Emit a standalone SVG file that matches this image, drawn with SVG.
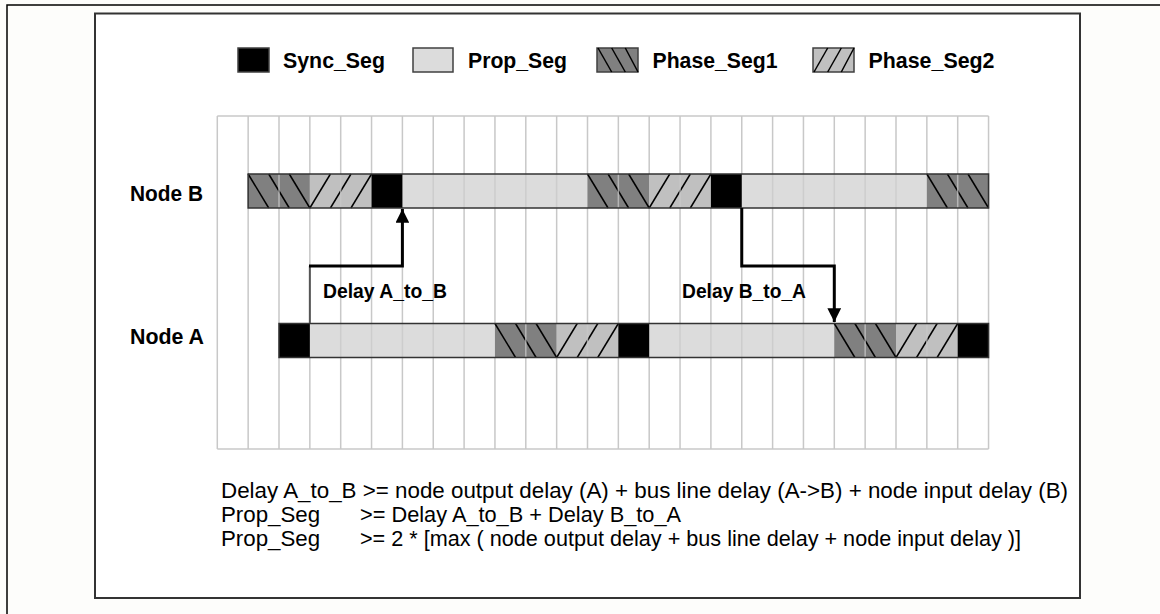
<svg xmlns="http://www.w3.org/2000/svg" width="1160" height="614" viewBox="0 0 1160 614">
<style>
.bold{font-family:"Liberation Sans",Arial,sans-serif;font-weight:bold;fill:#000}
.reg{font-family:"Liberation Sans",Arial,sans-serif;font-size:22.3px;fill:#000}
.grid{stroke:#c8c8c8;stroke-width:1.5;fill:none}
.gridover{stroke:#c8c8c8;stroke-width:1.5;stroke-opacity:0.75}
.sync{fill:#000}
.prop{fill:#dcdcdc}
.ph1{fill:#808080}
.ph2{fill:#c0c0c0}
.hatch{stroke:#000;stroke-width:1.5}
.barout{fill:none;stroke:#333;stroke-width:1.5}
.lg{stroke:#404040;stroke-width:1.5}
.conn{fill:none;stroke:#000;stroke-width:3}
</style>
<defs>
<marker id="ah" viewBox="0 0 10 10" refX="10" refY="5" markerWidth="4.6" markerHeight="4.6" orient="auto" markerUnits="strokeWidth">
<path d="M0,0 L10,5 L0,10 z" fill="#000"/>
</marker>
</defs>
<rect x="0" y="0" width="1160" height="614" fill="#fdfdfb"/>
<path d="M7,614 V5 H1160" fill="none" stroke="#000" stroke-width="1.5"/>
<rect x="95" y="13.5" width="985" height="584.5" fill="#fff" stroke="#333" stroke-width="2"/>

<g id="legend">
<rect x="238" y="48" width="31" height="24" class="sync lg"/>
<text x="283" y="68" class="bold" font-size="22.5" textLength="102" lengthAdjust="spacingAndGlyphs">Sync_Seg</text>
<rect x="413" y="48" width="40" height="24" class="prop lg"/>
<text x="468" y="68" class="bold" font-size="22.5" textLength="99" lengthAdjust="spacingAndGlyphs">Prop_Seg</text>
<rect x="597" y="48" width="41" height="24" class="ph1 lg"/>
<line x1="598" y1="48" x2="611.7" y2="72" class="hatch"/>
<line x1="611.7" y1="48" x2="625.3" y2="72" class="hatch"/>
<line x1="625.3" y1="48" x2="638" y2="72" class="hatch"/>
<text x="652.5" y="68" class="bold" font-size="22.5" textLength="125" lengthAdjust="spacingAndGlyphs">Phase_Seg1</text>
<rect x="813" y="48" width="41" height="24" class="ph2 lg"/>
<line x1="814" y1="72" x2="827.7" y2="48" class="hatch"/>
<line x1="827.7" y1="72" x2="841.3" y2="48" class="hatch"/>
<line x1="841.3" y1="72" x2="854" y2="48" class="hatch"/>
<text x="868.5" y="68" class="bold" font-size="22.5" textLength="126" lengthAdjust="spacingAndGlyphs">Phase_Seg2</text>
</g>

<g id="grid">
<line x1="217.3" y1="116" x2="988.55" y2="116" class="grid"/>
<line x1="217.3" y1="449" x2="988.55" y2="449" class="grid"/>
<path class="grid" d="M217.3,116V449 M248.15,116V449 M279,116V449 M309.85,116V449 M340.7,116V449 M371.55,116V449 M402.4,116V449 M433.25,116V449 M464.1,116V449 M494.95,116V449 M525.8,116V449 M556.65,116V449 M587.5,116V449 M618.35,116V449 M649.2,116V449 M680.05,116V449 M710.9,116V449 M741.75,116V449 M772.6,116V449 M803.45,116V449 M834.3,116V449 M865.15,116V449 M896,116V449 M926.85,116V449 M957.7,116V449 M988.55,116V449"/>
</g>

<g id="nodeB">
<text x="130" y="201" class="bold" font-size="22" textLength="73" lengthAdjust="spacingAndGlyphs">Node B</text>
<rect x="248.15" y="174" width="61.7" height="34" class="ph1"/>
<rect x="309.85" y="174" width="61.7" height="34" class="ph2"/>
<rect x="402.4" y="174" width="185.1" height="34" class="prop"/>
<rect x="587.5" y="174" width="61.7" height="34" class="ph1"/>
<rect x="649.2" y="174" width="61.7" height="34" class="ph2"/>
<rect x="741.75" y="174" width="185.1" height="34" class="prop"/>
<rect x="926.85" y="174" width="61.7" height="34" class="ph1"/>
<g class="hatch">
<line x1="248.15" y1="174" x2="268.72" y2="208"/>
<line x1="268.72" y1="174" x2="289.28" y2="208"/>
<line x1="289.28" y1="174" x2="309.85" y2="208"/>
<line x1="309.85" y1="208" x2="330.42" y2="174"/>
<line x1="330.42" y1="208" x2="350.98" y2="174"/>
<line x1="350.98" y1="208" x2="371.55" y2="174"/>
<line x1="587.5" y1="174" x2="608.07" y2="208"/>
<line x1="608.07" y1="174" x2="628.63" y2="208"/>
<line x1="628.63" y1="174" x2="649.2" y2="208"/>
<line x1="649.2" y1="208" x2="669.77" y2="174"/>
<line x1="669.77" y1="208" x2="690.33" y2="174"/>
<line x1="690.33" y1="208" x2="710.9" y2="174"/>
<line x1="926.85" y1="174" x2="947.42" y2="208"/>
<line x1="947.42" y1="174" x2="967.98" y2="208"/>
<line x1="967.98" y1="174" x2="988.55" y2="208"/>
</g>
<path class="gridover" d="M279,174V208 M340.7,174V208 M433.25,174V208 M464.1,174V208 M494.95,174V208 M525.8,174V208 M556.65,174V208 M618.35,174V208 M680.05,174V208 M772.6,174V208 M803.45,174V208 M834.3,174V208 M865.15,174V208 M896,174V208 M957.7,174V208"/>
<rect x="371.55" y="174" width="30.85" height="34" class="sync"/>
<rect x="710.9" y="174" width="30.85" height="34" class="sync"/>
<rect x="248.15" y="174" width="740.4" height="34" class="barout"/>
</g>

<g id="nodeA">
<text x="130" y="344" class="bold" font-size="22" textLength="74" lengthAdjust="spacingAndGlyphs">Node A</text>
<rect x="309.85" y="323.5" width="185.1" height="34" class="prop"/>
<rect x="494.95" y="323.5" width="61.7" height="34" class="ph1"/>
<rect x="556.65" y="323.5" width="61.7" height="34" class="ph2"/>
<rect x="649.2" y="323.5" width="185.1" height="34" class="prop"/>
<rect x="834.3" y="323.5" width="61.7" height="34" class="ph1"/>
<rect x="896" y="323.5" width="61.7" height="34" class="ph2"/>
<g class="hatch">
<line x1="494.95" y1="323.5" x2="515.52" y2="357.5"/>
<line x1="515.52" y1="323.5" x2="536.08" y2="357.5"/>
<line x1="536.08" y1="323.5" x2="556.65" y2="357.5"/>
<line x1="556.65" y1="357.5" x2="577.22" y2="323.5"/>
<line x1="577.22" y1="357.5" x2="597.78" y2="323.5"/>
<line x1="597.78" y1="357.5" x2="618.35" y2="323.5"/>
<line x1="834.3" y1="323.5" x2="854.87" y2="357.5"/>
<line x1="854.87" y1="323.5" x2="875.43" y2="357.5"/>
<line x1="875.43" y1="323.5" x2="896" y2="357.5"/>
<line x1="896" y1="357.5" x2="916.57" y2="323.5"/>
<line x1="916.57" y1="357.5" x2="937.13" y2="323.5"/>
<line x1="937.13" y1="357.5" x2="957.7" y2="323.5"/>
</g>
<path class="gridover" d="M340.7,323.5V357.5 M371.55,323.5V357.5 M402.4,323.5V357.5 M433.25,323.5V357.5 M464.1,323.5V357.5 M525.8,323.5V357.5 M587.5,323.5V357.5 M680.05,323.5V357.5 M710.9,323.5V357.5 M741.75,323.5V357.5 M772.6,323.5V357.5 M803.45,323.5V357.5 M865.15,323.5V357.5 M926.85,323.5V357.5"/>
<rect x="279" y="323.5" width="30.85" height="34" class="sync"/>
<rect x="618.35" y="323.5" width="30.85" height="34" class="sync"/>
<rect x="957.7" y="323.5" width="30.85" height="34" class="sync"/>
<rect x="279" y="323.5" width="709.55" height="34" class="barout"/>
</g>

<g id="connectors">
<line x1="309.85" y1="323" x2="309.85" y2="266" stroke="#555" stroke-width="2"/>
<path class="conn" d="M309,266 H402.4 V209" marker-end="url(#ah)"/>
<path class="conn" d="M741.75,208 V266 H834.3 V322" marker-end="url(#ah)"/>
<text x="323" y="298" class="bold" font-size="21" textLength="124" lengthAdjust="spacingAndGlyphs">Delay A_to_B</text>
<text x="682" y="298" class="bold" font-size="21" textLength="124" lengthAdjust="spacingAndGlyphs">Delay B_to_A</text>
</g>

<g id="formulas">
<text x="221" y="497.5" class="reg" textLength="847" lengthAdjust="spacingAndGlyphs">Delay A_to_B &gt;= node output delay (A) + bus line delay (A-&gt;B) + node input delay (B)</text>
<text x="221" y="521.5" class="reg">Prop_Seg</text>
<text x="360" y="521.5" class="reg" textLength="321" lengthAdjust="spacingAndGlyphs">&gt;= Delay A_to_B + Delay B_to_A</text>
<text x="221" y="545.5" class="reg">Prop_Seg</text>
<text x="360" y="545.5" class="reg" textLength="661" lengthAdjust="spacingAndGlyphs">&gt;= 2 * [max ( node output delay + bus line delay + node input delay )]</text>
</g>
</svg>
